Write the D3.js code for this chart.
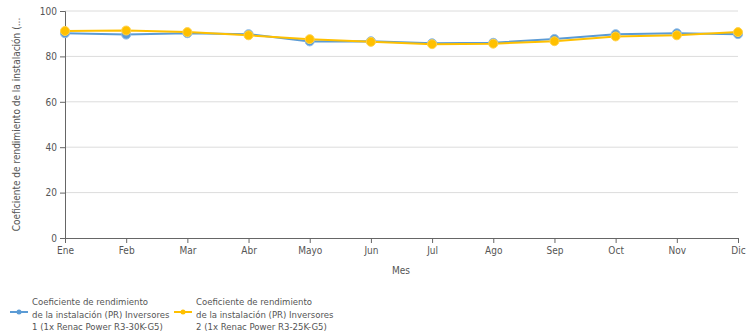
<!DOCTYPE html>
<html><head><meta charset="utf-8">
<script src="https://cdn.jsdelivr.net/npm/d3@7"></script>
<style>
body{margin:0;background:#fff;}
text{font-family:"DejaVu Sans Condensed","DejaVu Sans",sans-serif;fill:#555;}
</style></head>
<body><svg id="c" width="748" height="333"></svg>
<script>
const months = ["Ene","Feb","Mar","Abr","Mayo","Jun","Jul","Ago","Sep","Oct","Nov","Dic"];
const series1 = [90.2,89.6,90.2,89.8,86.6,86.7,85.8,86.0,87.7,89.8,90.2,89.8];
const series2 = [91.2,91.4,90.7,89.3,87.6,86.4,85.4,85.6,86.7,88.8,89.3,90.7];
const yTicks = [0,20,40,60,80,100];
const seriesNames = [
  ["Coeficiente de rendimiento","de la instalación (PR) Inversores","1 (1x Renac Power R3-30K-G5)"],
  ["Coeficiente de rendimiento","de la instalación (PR) Inversores","2 (1x Renac Power R3-25K-G5)"]
];
const colors = ["#5b9bd5","#ffc000"];

const svg = d3.select("#c");
const m = {l:65, r:10, t:11, b:95};
const W = 748, H = 333;
const x = d3.scalePoint().domain(months).range([m.l, 738]);
const y = d3.scaleLinear().domain([0,100]).range([238, m.t]);

// grid
svg.append("g").selectAll("line").data(yTicks.filter(d=>d>0)).join("line")
  .attr("x1", m.l).attr("x2", 738).attr("y1", d=>y(d)).attr("y2", d=>y(d))
  .attr("stroke","#dcdcdc").attr("stroke-width",1);

const ya = svg.append("g").attr("transform",`translate(${m.l},0)`)
  .call(d3.axisLeft(y).tickValues(yTicks).tickSize(5).tickPadding(3));
ya.select(".domain").attr("stroke","#666");
ya.selectAll(".tick line").attr("stroke","#666");
ya.selectAll("text").attr("font-size",10).attr("fill","#555");

const xa = svg.append("g").attr("transform",`translate(0,238)`)
  .call(d3.axisBottom(x).tickSize(5).tickPadding(4).tickSizeOuter(0));
xa.select(".domain").attr("stroke","#666");
xa.selectAll(".tick line").attr("stroke","#666");
xa.selectAll("text").attr("font-size",10).attr("fill","#555");

svg.append("text").attr("x",401).attr("y",274).attr("text-anchor","middle")
  .attr("font-size",10).text("Mes");
svg.append("text").attr("transform",`translate(20,${(238+m.t)/2}) rotate(-90)`)
  .attr("text-anchor","middle").attr("font-size",10)
  .text("Coeficiente de rendimiento de la instalación (...");

const line = d3.line().x((d,i)=>x(months[i])).y(d=>y(d));
[series1, series2].forEach((s,k)=>{
  const g = svg.append("g");
  g.append("path").datum(s).attr("d",line).attr("fill","none")
    .attr("stroke",colors[k]).attr("stroke-width",2);
  g.selectAll("circle").data(s).join("circle")
    .attr("cx",(d,i)=>x(months[i])).attr("cy",d=>y(d)).attr("r",4.5)
    .attr("fill",colors[k]).attr("stroke", k===0?"#8fbce6":"#ffd24d").attr("stroke-width",1);
});

// legend
const lx = [10, 174];
seriesNames.forEach((lines,k)=>{
  const g = svg.append("g").attr("transform",`translate(${lx[k]},0)`);
  g.append("line").attr("x1",0).attr("x2",18).attr("y1",312).attr("y2",312)
    .attr("stroke",colors[k]).attr("stroke-width",2);
  g.append("circle").attr("cx",9).attr("cy",312).attr("r",2.5).attr("fill",colors[k]);
  lines.forEach((t,i)=>{
    g.append("text").attr("x",22).attr("y",305+i*12.5).attr("font-size",9.5).text(t);
  });
});
</script></body></html>
